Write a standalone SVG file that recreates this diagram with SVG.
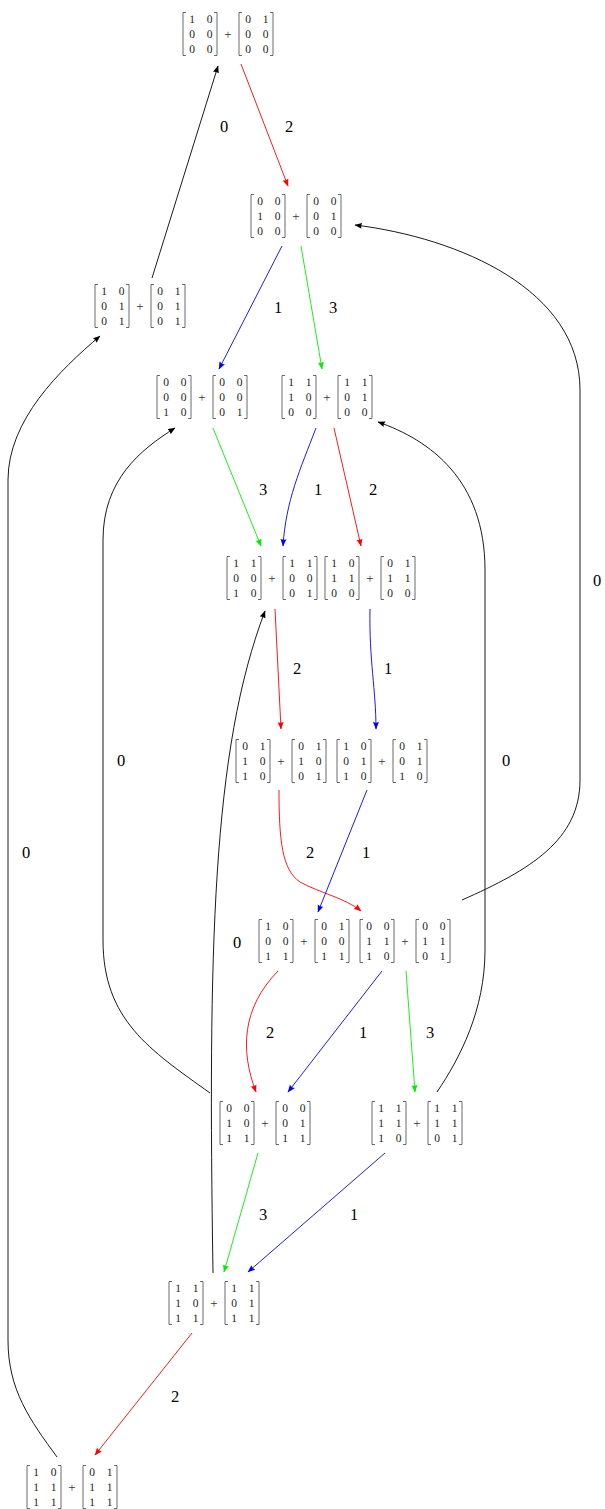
<svg xmlns="http://www.w3.org/2000/svg" xmlns:xlink="http://www.w3.org/1999/xlink" width="605" height="1509" viewBox="0 0 605 1509">
<style>
text{text-rendering:geometricPrecision;-webkit-font-smoothing:antialiased}
.m{font-family:"Liberation Serif","DejaVu Serif",serif;font-size:11.5px;fill:#222;text-anchor:middle}
.p{font-family:"Liberation Serif","DejaVu Serif",serif;font-size:13px;fill:#333;text-anchor:middle}
.b{fill:none;stroke:#444;stroke-width:0.8}
.l{font-family:"Liberation Serif","DejaVu Serif",serif;font-size:16.5px;fill:#000;text-anchor:middle}
.e{fill:none;stroke-width:0.9}
.k{stroke:#000;marker-end:url(#ak)}
.r{stroke:#f00;marker-end:url(#ar)}
.u{stroke:#00f;marker-end:url(#au)}
.g{stroke:#0e0;marker-end:url(#ag)}
</style>
<defs>
<marker id="ak" markerUnits="userSpaceOnUse" markerWidth="9" markerHeight="7" refX="7" refY="3.5" orient="auto"><path d="M0,0.5 L7.5,3.5 L0,6.5 Q1.5,3.5 0,0.5z" fill="#000"/></marker>
<marker id="ar" markerUnits="userSpaceOnUse" markerWidth="9" markerHeight="7" refX="7" refY="3.5" orient="auto"><path d="M0,0.5 L7.5,3.5 L0,6.5 Q1.5,3.5 0,0.5z" fill="#f00"/></marker>
<marker id="au" markerUnits="userSpaceOnUse" markerWidth="9" markerHeight="7" refX="7" refY="3.5" orient="auto"><path d="M0,0.5 L7.5,3.5 L0,6.5 Q1.5,3.5 0,0.5z" fill="#00f"/></marker>
<marker id="ag" markerUnits="userSpaceOnUse" markerWidth="9" markerHeight="7" refX="7" refY="3.5" orient="auto"><path d="M0,0.5 L7.5,3.5 L0,6.5 Q1.5,3.5 0,0.5z" fill="#0e0"/></marker>
<g id="br"><path class="b" d="M-42,-21.5H-45V21.5H-42M-14,-21.5H-11V21.5H-14M14,-21.5H11V21.5H14M42,-21.5H45V21.5H42"/><text class="p" x="0" y="4.5">+</text></g>
</defs>
<rect width="605" height="1509" fill="#fff"/>
<g id="connectors">
<path class="e r" d="M241,64 L288,186"/>
<path class="e k" d="M152,278 L218,66"/>
<path class="e u" d="M282,246 L219,369"/>
<path class="e g" d="M301,246 L322,369"/>
<path class="e g" d="M213,428 L261,546"/>
<path class="e u" d="M316,428 C300,470 286,500 283,546"/>
<path class="e r" d="M334,428 L361,546"/>
<path class="e r" d="M275,609 L281,729"/>
<path class="e u" d="M370,609 C369,660 376,690 376,729"/>
<path class="e r" d="M279,790 C279,840 282,870 300,882 C320,893 345,898 361,911"/>
<path class="e u" d="M367,790 L318,912"/>
<path class="e k" d="M462,900 C530,870 580,840 580,780 L580,390 C580,290 460,238 355,225"/>
<path class="e r" d="M278,971 C242,1008 240,1050 256,1092"/>
<path class="e u" d="M382,971 L288,1092"/>
<path class="e g" d="M406,971 L415,1092"/>
<path class="e k" d="M437,1092 C460,1058 485,1010 485,950 L485,570 C485,480 430,440 378,422"/>
<path class="e k" d="M210,1093 C150,1050 103,1020 103,940 L103,540 C103,480 140,450 175,428"/>
<path class="e g" d="M258,1153 L224,1272"/>
<path class="e u" d="M385,1153 L248,1272"/>
<path class="e k" d="M213,1273 C208,950 212,750 265,611"/>
<path class="e r" d="M192,1333 L95,1455"/>
<path class="e k" d="M57,1457 C30,1420 8,1390 8,1340 L8,480 C8,420 60,370 100,336"/>
</g>
<g id="labels">
<text class="l" x="289" y="132">2</text>
<text class="l" x="224" y="132">0</text>
<text class="l" x="278" y="313">1</text>
<text class="l" x="333" y="313">3</text>
<text class="l" x="263" y="495">3</text>
<text class="l" x="318" y="495">1</text>
<text class="l" x="373" y="495">2</text>
<text class="l" x="297" y="674">2</text>
<text class="l" x="388" y="674">1</text>
<text class="l" x="597" y="586">0</text>
<text class="l" x="121" y="766">0</text>
<text class="l" x="506" y="766">0</text>
<text class="l" x="310" y="858">2</text>
<text class="l" x="366" y="858">1</text>
<text class="l" x="26" y="858">0</text>
<text class="l" x="237" y="948">0</text>
<text class="l" x="270" y="1038">2</text>
<text class="l" x="363" y="1038">1</text>
<text class="l" x="430" y="1038">3</text>
<text class="l" x="263" y="1220">3</text>
<text class="l" x="354" y="1220">1</text>
<text class="l" x="175" y="1402">2</text>
</g>
<g id="n1" transform="translate(228,34)"><use xlink:href="#br"/><text class="m" x="-36 -18.5 20 37.5" y="-11">1001</text><text class="m" x="-36 -18.5 20 37.5" y="4">0000</text><text class="m" x="-36 -18.5 20 37.5" y="19">0000</text></g>
<g id="n2" transform="translate(296,216)"><use xlink:href="#br"/><text class="m" x="-36 -18.5 20 37.5" y="-11">0000</text><text class="m" x="-36 -18.5 20 37.5" y="4">1001</text><text class="m" x="-36 -18.5 20 37.5" y="19">0000</text></g>
<g id="n3" transform="translate(140,306)"><use xlink:href="#br"/><text class="m" x="-36 -18.5 20 37.5" y="-11">1001</text><text class="m" x="-36 -18.5 20 37.5" y="4">0101</text><text class="m" x="-36 -18.5 20 37.5" y="19">0101</text></g>
<g id="n4" transform="translate(202,397)"><use xlink:href="#br"/><text class="m" x="-36 -18.5 20 37.5" y="-11">0000</text><text class="m" x="-36 -18.5 20 37.5" y="4">0000</text><text class="m" x="-36 -18.5 20 37.5" y="19">1001</text></g>
<g id="n5" transform="translate(327,397)"><use xlink:href="#br"/><text class="m" x="-36 -18.5 20 37.5" y="-11">1111</text><text class="m" x="-36 -18.5 20 37.5" y="4">1001</text><text class="m" x="-36 -18.5 20 37.5" y="19">0000</text></g>
<g id="n6" transform="translate(272,578)"><use xlink:href="#br"/><text class="m" x="-36 -18.5 20 37.5" y="-11">1111</text><text class="m" x="-36 -18.5 20 37.5" y="4">0000</text><text class="m" x="-36 -18.5 20 37.5" y="19">1001</text></g>
<g id="n7" transform="translate(370,578)"><use xlink:href="#br"/><text class="m" x="-36 -18.5 20 37.5" y="-11">1001</text><text class="m" x="-36 -18.5 20 37.5" y="4">1111</text><text class="m" x="-36 -18.5 20 37.5" y="19">0000</text></g>
<g id="n8" transform="translate(281,761)"><use xlink:href="#br"/><text class="m" x="-36 -18.5 20 37.5" y="-11">0101</text><text class="m" x="-36 -18.5 20 37.5" y="4">1010</text><text class="m" x="-36 -18.5 20 37.5" y="19">1001</text></g>
<g id="n9" transform="translate(382,761)"><use xlink:href="#br"/><text class="m" x="-36 -18.5 20 37.5" y="-11">1001</text><text class="m" x="-36 -18.5 20 37.5" y="4">0101</text><text class="m" x="-36 -18.5 20 37.5" y="19">1010</text></g>
<g id="n10" transform="translate(304,941)"><use xlink:href="#br"/><text class="m" x="-36 -18.5 20 37.5" y="-11">1001</text><text class="m" x="-36 -18.5 20 37.5" y="4">0000</text><text class="m" x="-36 -18.5 20 37.5" y="19">1111</text></g>
<g id="n11" transform="translate(405,941)"><use xlink:href="#br"/><text class="m" x="-36 -18.5 20 37.5" y="-11">0000</text><text class="m" x="-36 -18.5 20 37.5" y="4">1111</text><text class="m" x="-36 -18.5 20 37.5" y="19">1001</text></g>
<g id="n12" transform="translate(265,1123)"><use xlink:href="#br"/><text class="m" x="-36 -18.5 20 37.5" y="-11">0000</text><text class="m" x="-36 -18.5 20 37.5" y="4">1001</text><text class="m" x="-36 -18.5 20 37.5" y="19">1111</text></g>
<g id="n13" transform="translate(417,1123)"><use xlink:href="#br"/><text class="m" x="-36 -18.5 20 37.5" y="-11">1111</text><text class="m" x="-36 -18.5 20 37.5" y="4">1111</text><text class="m" x="-36 -18.5 20 37.5" y="19">1001</text></g>
<g id="n14" transform="translate(214,1303)"><use xlink:href="#br"/><text class="m" x="-36 -18.5 20 37.5" y="-11">1111</text><text class="m" x="-36 -18.5 20 37.5" y="4">1001</text><text class="m" x="-36 -18.5 20 37.5" y="19">1111</text></g>
<g id="n15" transform="translate(72,1487)"><use xlink:href="#br"/><text class="m" x="-36 -18.5 20 37.5" y="-11">1001</text><text class="m" x="-36 -18.5 20 37.5" y="4">1111</text><text class="m" x="-36 -18.5 20 37.5" y="19">1111</text></g>
</svg>
